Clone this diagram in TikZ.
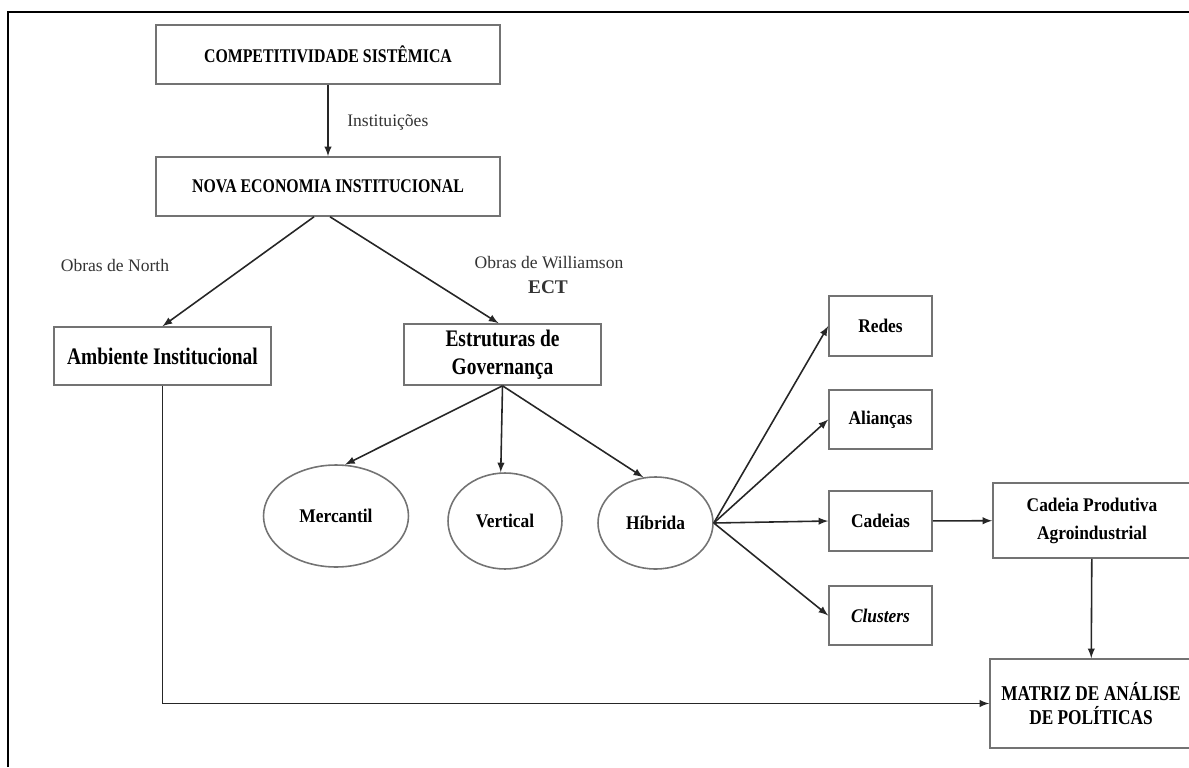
\documentclass[tikz,border=0pt]{standalone}
\usepackage{fontspec}
\setmainfont{Liberation Serif}
\newfontfamily\estreita{Liberation Serif}[FakeStretch=0.82]
\newfontfamily\semiestreita{Liberation Serif}[FakeStretch=0.9]
\usetikzlibrary{arrows}
\usetikzlibrary{calc}
\usepgflibrary{shapes.geometric}

\begin{document}
\begin{tikzpicture}[x=0.02cm, y=-0.02cm,
    caixa/.style={draw=black!55, line width=0.9pt, inner sep=0pt, align=center,
        font=\semiestreita\fontsize{11}{16}\selectfont\bfseries},
    oval/.style={ellipse, draw=black!55, line width=0.9pt, inner sep=0pt,
        font=\semiestreita\fontsize{11}{13}\selectfont\bfseries},
    rotulo/.style={inner sep=0pt, font=\fontsize{10}{12}\selectfont, text=black!80},
    seta/.style={-latex, line width=0.9pt, draw=black!85}]
    \useasboundingbox (0,0) rectangle (1189,767);
    \clip (0,0) rectangle (1189,767);

    % moldura
    \draw[line width=1.2pt] (8,767) -- (8,12) -- (1189,12);

    % caixas
    \node[caixa, minimum width=6.88cm, minimum height=1.18cm, font=\estreita\fontsize{11}{13}\selectfont\bfseries] (cs) at (328,54.5) {COMPETITIVIDADE SISTÊMICA};
    \node[caixa, minimum width=6.88cm, minimum height=1.18cm, font=\estreita\fontsize{11}{13}\selectfont\bfseries] (nei) at (328,186.5) {NOVA ECONOMIA INSTITUCIONAL};
    \node[caixa, minimum width=4.34cm, minimum height=1.16cm, font=\estreita\fontsize{13.5}{16}\selectfont\bfseries] (amb) at (162.5,356) {Ambiente Institucional};
    \node[caixa, minimum width=3.94cm, minimum height=1.22cm, font=\estreita\fontsize{13.5}{16}\selectfont\bfseries] (gov) at (502.5,354.5) {Estruturas de\\Governança};

    \node[oval, minimum width=2.9cm, minimum height=2.04cm] (merc) at (336,516) {Mercantil};
    \node[oval, minimum width=2.28cm, minimum height=1.92cm] (vert) at (505,521) {Vertical};
    \node[oval, minimum width=2.3cm, minimum height=1.84cm] (hib) at (655.5,523) {Híbrida};

    \node[caixa, minimum width=2.06cm, minimum height=1.2cm] (redes) at (880.5,326) {Redes};
    \node[caixa, minimum width=2.06cm, minimum height=1.18cm] (alian) at (880.5,419.5) {Alianças};
    \node[caixa, minimum width=2.06cm, minimum height=1.2cm] (cad) at (880.5,521) {Cadeias};
    \node[caixa, minimum width=2.06cm, minimum height=1.18cm] (clus) at (880.5,615.5) {\textit{Clusters}};

    \node[caixa, minimum width=3.96cm, minimum height=1.5cm] (cpa) at (1092,520.5) {Cadeia Produtiva\\Agroindustrial};
    \node[caixa, minimum width=4.04cm, minimum height=1.78cm, font=\estreita\fontsize{12}{13.5}\selectfont\bfseries] (map) at (1091,703.5) {MATRIZ DE ANÁLISE\\DE POLÍTICAS};

    % rotulos
    \node[rotulo, anchor=west] (inst) at (347,122) {Instituições};
    \node[rotulo] (north) at (115,265) {Obras de North};
    \node[rotulo] (will) at (549,263) {Obras de Williamson};
    \node[rotulo, font=\fontsize{11}{13}\selectfont\bfseries] (ect) at (548,287) {ECT};

    % setas
    \draw[seta] (cs) -- (nei);
    \draw[seta] ($(nei.south)+(-14,0)$) -- (amb.north);
    \draw[seta] ($(nei.south)+(2,0)$) -- ($(gov.north)+(-4,0)$);
    \draw[seta] (gov.south) -- (merc.80);
    \draw[seta] (gov.south) -- (vert.95);
    \draw[seta] (gov.south) -- (hib.105);
    \foreach \alvo in {redes, alian, cad, clus}
        \draw[seta] (hib.east) -- (\alvo.west);
    \draw[seta] (cad) -- (cpa);
    \draw[seta] (cpa) -- (map);
    \draw[seta] (amb.south) |- (map.west);

\end{tikzpicture}
\end{document}
